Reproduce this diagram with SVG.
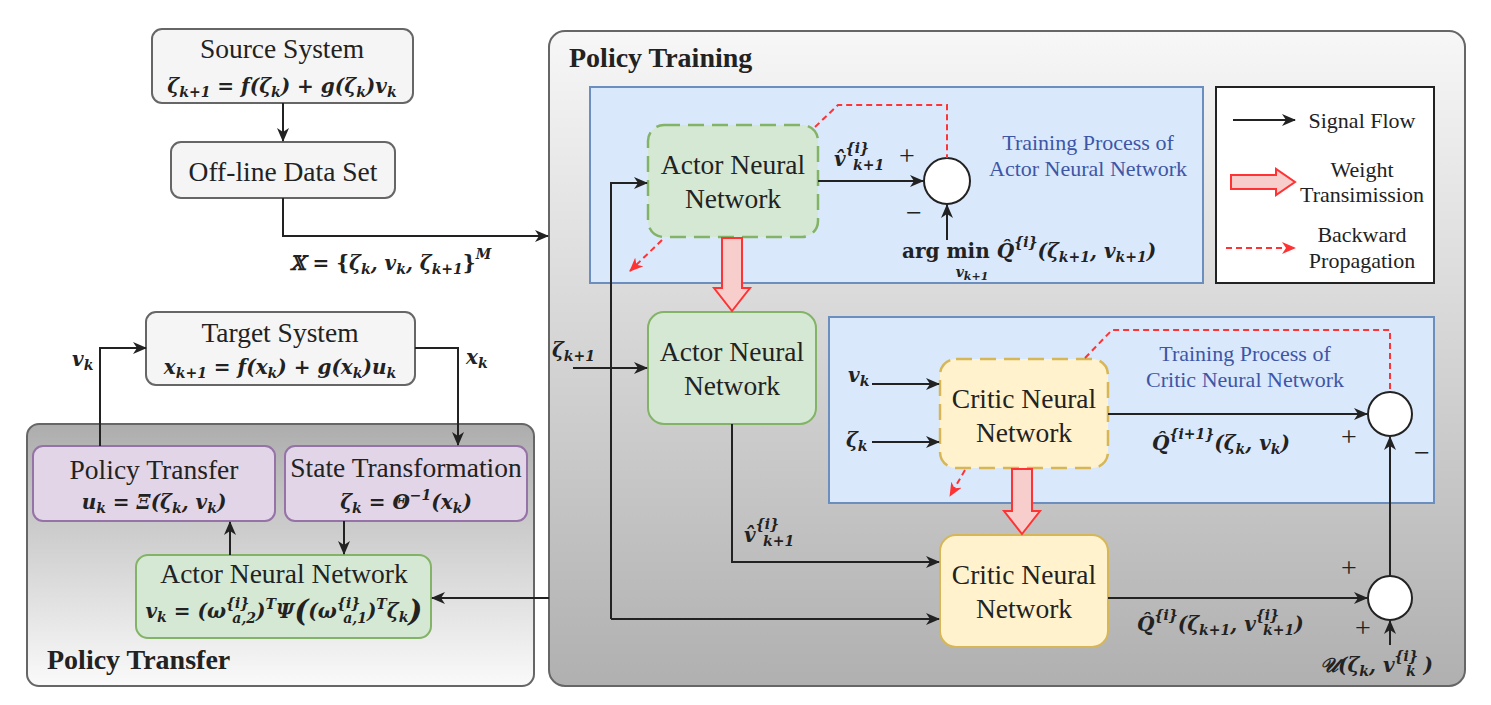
<svg xmlns="http://www.w3.org/2000/svg" width="1491" height="705" viewBox="0 0 1491 705">
<defs>
<linearGradient id="gTrain" x1="0" y1="0" x2="0" y2="1"><stop offset="0" stop-color="#f7f7f7"/><stop offset="1" stop-color="#b0b0b0"/></linearGradient>
<linearGradient id="gTrans" x1="0" y1="0" x2="0" y2="1"><stop offset="0" stop-color="#adadad"/><stop offset="1" stop-color="#fafafa"/></linearGradient>
<marker id="ar" viewBox="0 0 14 12" refX="13" refY="6" markerWidth="14" markerHeight="12" markerUnits="userSpaceOnUse" orient="auto"><path d="M0,0 L14,6 L0,12 L4,6 Z" fill="#222"/></marker>
<marker id="arr" viewBox="0 0 14 12" refX="13" refY="6" markerWidth="14" markerHeight="12" markerUnits="userSpaceOnUse" orient="auto"><path d="M0,0 L14,6 L0,12 L4,6 Z" fill="#ff3333"/></marker>
</defs>
<style>
.t{font-family:'Liberation Serif','DejaVu Serif',serif;font-size:27.5px;fill:#222;text-anchor:middle}
.b{font-family:'Liberation Serif','DejaVu Serif',serif;font-size:28px;font-weight:bold;fill:#222}
.bl{font-family:'Liberation Serif','DejaVu Serif',serif;font-size:22px;fill:#3d56a6;text-anchor:middle}
.lg{font-family:'Liberation Serif','DejaVu Serif',serif;font-size:22px;fill:#222;text-anchor:middle}
.m{font-family:'DejaVu Serif','Liberation Serif',serif;font-size:20px;font-style:italic;font-weight:bold;fill:#222}
.mc{text-anchor:middle}
.s{font-size:14px}
.up{font-style:normal}
.pm{font-family:'Liberation Serif','DejaVu Serif',serif;font-size:28px;fill:#222;text-anchor:middle}
.gray{fill:#f5f5f5;stroke:#666;stroke-width:2}
.purp{fill:#e1d5e7;stroke:#9673a6;stroke-width:2}
.green{fill:#d5e8d4;stroke:#82b366;stroke-width:2}
.yel{fill:#fff2cc;stroke:#d6b656;stroke-width:2}
.blue{fill:#dae8fc;stroke:#6c8ebf;stroke-width:2}
.dash{stroke-width:2.5;stroke-dasharray:16 8}
.ln{fill:none;stroke:#222;stroke-width:2}
.red{fill:none;stroke:#ff3333;stroke-width:2;stroke-dasharray:6 4}
.wt{fill:#f8cecc;stroke:#ff3333;stroke-width:2}
.sum{fill:#fff;stroke:#222;stroke-width:2}
</style>

<!-- containers -->
<g id="policy-training">
<rect x="549" y="31" width="916" height="655" rx="16" fill="url(#gTrain)" stroke="#666" stroke-width="2"/>
<text class="b" x="569" y="67">Policy Training</text>
</g>
<g id="policy-transfer-group">
<rect x="27" y="424" width="507" height="262" rx="12" fill="url(#gTrans)" stroke="#666" stroke-width="2"/>
<text class="b" x="47" y="669">Policy Transfer</text>
</g>
<g id="actor-training-region">
<rect class="blue" x="590" y="87" width="613" height="196"/>
<text class="bl" x="1088" y="150">Training Process of</text>
<text class="bl" x="1088" y="176">Actor Neural Network</text>
</g>
<g id="critic-training-region">
<rect class="blue" x="829" y="317" width="605" height="186"/>
<text class="bl" x="1245" y="361">Training Process of</text>
<text class="bl" x="1245" y="387">Critic Neural Network</text>
</g>

<!-- left nodes -->
<g id="source-system">
<rect class="gray" x="152" y="29" width="261" height="74" rx="10"/>
<text class="t" x="282" y="58">Source System</text>
<text class="m mc" x="282" y="93">ζ<tspan class="s" dy="4">k+1</tspan><tspan dy="-4"> = f(ζ</tspan><tspan class="s" dy="4">k</tspan><tspan dy="-4">) + g(ζ</tspan><tspan class="s" dy="4">k</tspan><tspan dy="-4">)v</tspan><tspan class="s" dy="4">k</tspan></text>
</g>
<g id="offline-data">
<rect class="gray" x="171" y="142" width="224" height="56" rx="10"/>
<text class="t" x="283" y="181">Off-line Data Set</text>
</g>
<g id="target-system">
<rect class="gray" x="146" y="312" width="269" height="73" rx="10"/>
<text class="t" x="280" y="342">Target System</text>
<text class="m mc" x="280" y="374">x<tspan class="s" dy="4">k+1</tspan><tspan dy="-4"> = f(x</tspan><tspan class="s" dy="4">k</tspan><tspan dy="-4">) + g(x</tspan><tspan class="s" dy="4">k</tspan><tspan dy="-4">)u</tspan><tspan class="s" dy="4">k</tspan></text>
</g>
<g id="policy-transfer">
<rect class="purp" x="33" y="446" width="242" height="75" rx="10"/>
<text class="t" x="154" y="479">Policy Transfer</text>
<text class="m mc" x="154" y="509">u<tspan class="s" dy="4">k</tspan><tspan dy="-4"> = Ξ(ζ</tspan><tspan class="s" dy="4">k</tspan><tspan dy="-4">, v</tspan><tspan class="s" dy="4">k</tspan><tspan dy="-4">)</tspan></text>
</g>
<g id="state-transformation">
<rect class="purp" x="285" y="446" width="242" height="75" rx="10"/>
<text class="t" x="406" y="477">State Transformation</text>
<text class="m mc" x="406" y="509">ζ<tspan class="s" dy="4">k</tspan><tspan dy="-4"> = Θ</tspan><tspan class="s" dy="-9">−1</tspan><tspan dy="9">(x</tspan><tspan class="s" dy="4">k</tspan><tspan dy="-4">)</tspan></text>
</g>
<g id="actor-deployed">
<rect class="green" x="136" y="555" width="295" height="83" rx="12"/>
<text class="t" x="284" y="583">Actor Neural Network</text>
<text class="m mc" x="284" y="618">v<tspan class="s" dy="4">k</tspan><tspan dy="-4"> = (ω</tspan><tspan class="s" dy="-10">{i}</tspan><tspan class="s" dx="-17" dy="15">a,2</tspan><tspan dy="-5">)</tspan><tspan class="s" dy="-9">T</tspan><tspan dy="9">Ψ</tspan><tspan font-size="30" dy="3">(</tspan><tspan dy="-3">(ω</tspan><tspan class="s" dy="-10">{i}</tspan><tspan class="s" dx="-17" dy="15">a,1</tspan><tspan dy="-5">)</tspan><tspan class="s" dy="-9">T</tspan><tspan dy="9">ζ</tspan><tspan class="s" dy="4">k</tspan><tspan font-size="30" dy="-1">)</tspan></text>
</g>

<!-- right nodes -->
<g id="actor-train">
<rect class="green dash" x="648" y="125" width="170" height="112" rx="16"/>
<text class="t" x="733" y="174">Actor Neural</text>
<text class="t" x="733" y="208">Network</text>
</g>
<g id="actor-target">
<rect class="green" x="648" y="312" width="168" height="112" rx="16"/>
<text class="t" x="732" y="361">Actor Neural</text>
<text class="t" x="732" y="395">Network</text>
</g>
<g id="critic-train">
<rect class="yel dash" x="940" y="359" width="168" height="109" rx="16"/>
<text class="t" x="1024" y="408">Critic Neural</text>
<text class="t" x="1024" y="442">Network</text>
</g>
<g id="critic-target">
<rect class="yel" x="940" y="535" width="168" height="112" rx="16"/>
<text class="t" x="1024" y="584">Critic Neural</text>
<text class="t" x="1024" y="618">Network</text>
</g>
<g id="sum-actor"><circle class="sum" cx="947" cy="181" r="23"/></g>
<g id="sum-critic"><circle class="sum" cx="1390" cy="414" r="22"/></g>
<g id="sum-target"><circle class="sum" cx="1390" cy="598" r="22"/></g>

<!-- legend -->
<g id="legend">
<rect x="1216" y="87" width="218" height="196" fill="#fff" stroke="#222" stroke-width="2"/>
<line class="ln" x1="1233" y1="120" x2="1295" y2="120" marker-end="url(#ar)"/>
<text class="lg" x="1362" y="128">Signal Flow</text>
<polygon class="wt" points="1231,175 1276,175 1276,169 1295,182 1276,195 1276,189 1231,189"/>
<text class="lg" x="1362" y="177">Weight</text>
<text class="lg" x="1362" y="202">Transimission</text>
<line class="red" x1="1226" y1="248" x2="1295" y2="248" marker-end="url(#arr)"/>
<text class="lg" x="1362" y="242">Backward</text>
<text class="lg" x="1362" y="268">Propagation</text>
</g>

<!-- connectors -->
<g id="connectors">
<path class="ln" d="M283,103 L283,141" marker-end="url(#ar)"/>
<path class="ln" d="M283,198 L283,236 L548,236" marker-end="url(#ar)"/>
<path class="ln" d="M100,446 L100,348 L146,348" marker-end="url(#ar)"/>
<path class="ln" d="M415,348 L458,348 L458,445" marker-end="url(#ar)"/>
<path class="ln" d="M230,555 L230,522" marker-end="url(#ar)"/>
<path class="ln" d="M344,521 L344,554" marker-end="url(#ar)"/>
<path class="ln" d="M549,598 L432,598" marker-end="url(#ar)"/>
<path class="ln" d="M611,619 L611,183 L647,183" marker-end="url(#ar)"/>
<path class="ln" d="M611,619 L939,619" marker-end="url(#ar)"/>
<path class="ln" d="M573,368 L647,368" marker-end="url(#ar)"/>
<path class="ln" d="M818,181 L923,181" marker-end="url(#ar)"/>
<path class="ln" d="M947,240 L947,205" marker-end="url(#ar)"/>
<path class="ln" d="M732,424 L732,562 L939,562" marker-end="url(#ar)"/>
<path class="ln" d="M872,384 L939,384" marker-end="url(#ar)"/>
<path class="ln" d="M872,442 L939,442" marker-end="url(#ar)"/>
<path class="ln" d="M1108,414 L1367,414" marker-end="url(#ar)"/>
<path class="ln" d="M1108,598 L1367,598" marker-end="url(#ar)"/>
<path class="ln" d="M1390,576 L1390,437" marker-end="url(#ar)"/>
<path class="ln" d="M1390,645 L1390,621" marker-end="url(#ar)"/>
<polygon class="wt" points="722,238 742,238 742,288 750,288 732,311 714,288 722,288"/>
<polygon class="wt" points="1012,469 1032,469 1032,511 1040,511 1022,534 1004,511 1012,511"/>
<path class="red" d="M815,127 L838,105 L947,105 L947,158"/>
<path class="red" d="M1085,358 L1112,330 L1390,330 L1390,391"/>
<path class="red" d="M662,240 L630,271" marker-end="url(#arr)"/>
<path class="red" d="M965,470 L950,496" marker-end="url(#arr)"/>
</g>

<!-- connector labels -->
<g id="labels">
<text class="m" x="290" y="270" font-size="21">𝕏<tspan class="up"> = {</tspan>ζ<tspan class="s" dy="4">k</tspan><tspan dy="-4">, v</tspan><tspan class="s" dy="4">k</tspan><tspan dy="-4">, ζ</tspan><tspan class="s" dy="4">k+1</tspan><tspan dy="-4" class="up">}</tspan><tspan class="s" dy="-11">M</tspan></text>
<text class="m" x="72" y="366">v<tspan class="s" dy="4">k</tspan></text>
<text class="m" x="466" y="364">x<tspan class="s" dy="4">k</tspan></text>
<text class="m" x="552" y="357">ζ<tspan class="s" dy="4">k+1</tspan></text>
<text class="m" x="834" y="166">v̂<tspan class="s" dy="-13">{i}</tspan><tspan class="s" dx="-16" dy="17">k+1</tspan></text>
<text class="pm" x="907" y="165">+</text>
<text class="pm" x="914" y="222">−</text>
<text class="m" x="902" y="258"><tspan class="up">arg min</tspan> Q̂<tspan class="s" dy="-11">{i}</tspan><tspan dy="11">(ζ</tspan><tspan class="s" dy="4">k+1</tspan><tspan dy="-4">, v</tspan><tspan class="s" dy="4">k+1</tspan><tspan dy="-4">)</tspan></text>
<text class="m s" x="972" y="277" text-anchor="middle">v<tspan dy="3" font-size="11">k+1</tspan></text>
<text class="m" x="744" y="542">v̂<tspan class="s" dy="-13">{i}</tspan><tspan class="s" dx="-16" dy="17">k+1</tspan></text>
<text class="m" x="848" y="382">v<tspan class="s" dy="4">k</tspan></text>
<text class="m" x="846" y="447">ζ<tspan class="s" dy="4">k</tspan></text>
<text class="m" x="1152" y="450">Q̂<tspan class="s" dy="-11">{i+1}</tspan><tspan dy="11">(ζ</tspan><tspan class="s" dy="4">k</tspan><tspan dy="-4">, v</tspan><tspan class="s" dy="4">k</tspan><tspan dy="-4">)</tspan></text>
<text class="pm" x="1349" y="446">+</text>
<text class="pm" x="1422" y="462">−</text>
<text class="pm" x="1349" y="577">+</text>
<text class="m" x="1137" y="631">Q̂<tspan class="s" dy="-11">{i}</tspan><tspan dy="11">(ζ</tspan><tspan class="s" dy="4">k+1</tspan><tspan dy="-4">, v</tspan><tspan class="s" dy="-11">{i}</tspan><tspan class="s" dx="-16" dy="15">k+1</tspan><tspan dy="-4">)</tspan></text>
<text class="pm" x="1363" y="637">+</text>
<text class="m" x="1320" y="672">𝒰(ζ<tspan class="s" dy="4">k</tspan><tspan dy="-4">, v</tspan><tspan class="s" dy="-11">{i}</tspan><tspan class="s" dx="-12" dy="15">k</tspan><tspan dx="8" dy="-4">)</tspan></text>
</g>
</svg>
